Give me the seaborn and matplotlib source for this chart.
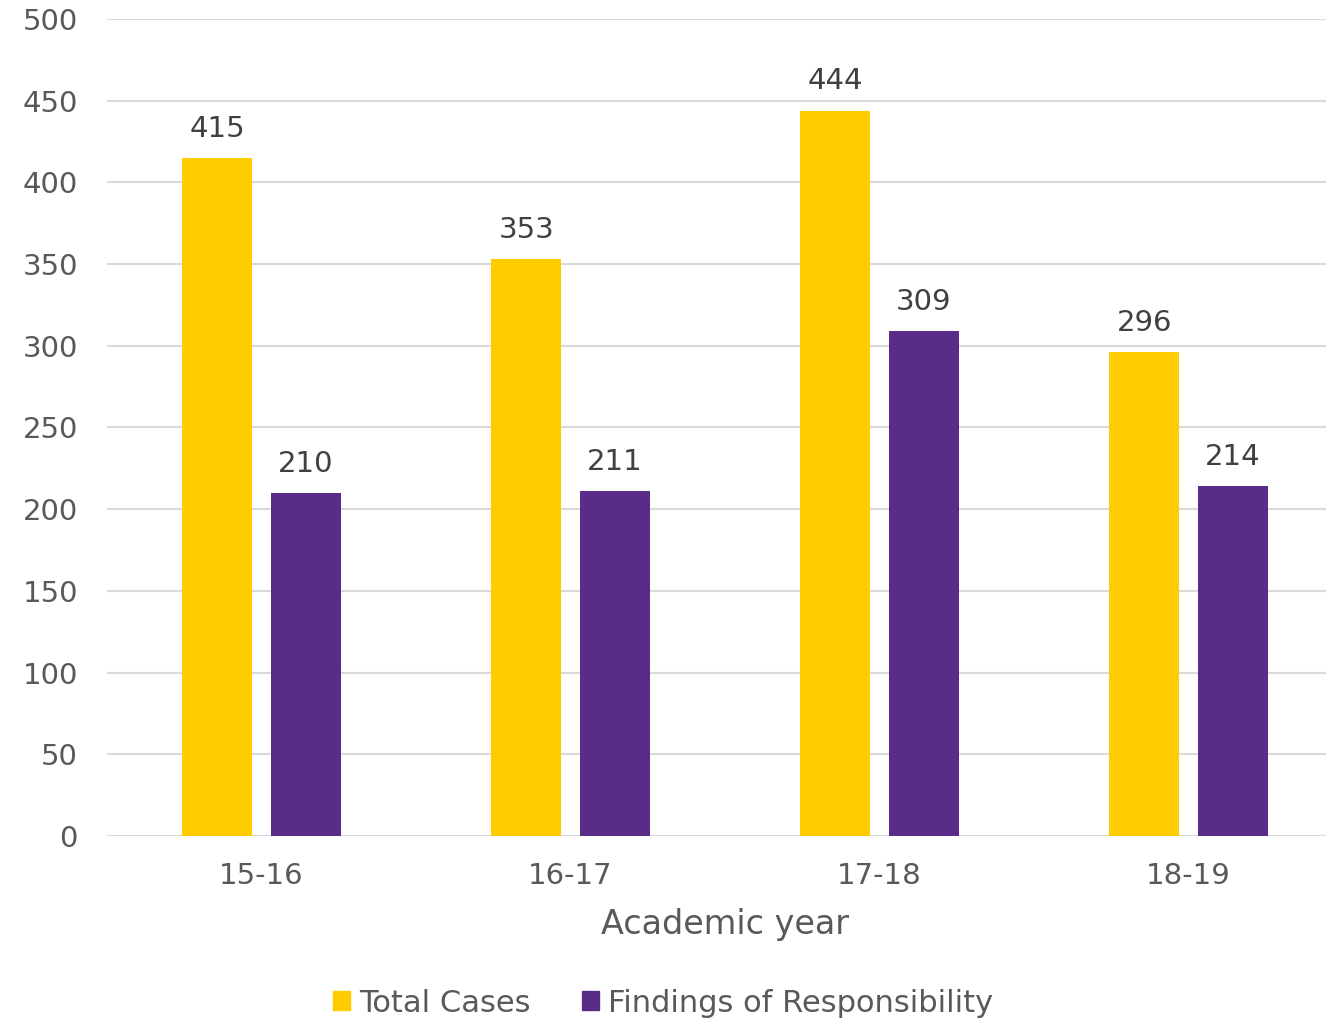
import pandas as pd
import numpy as np
import matplotlib
matplotlib.use('Agg')
import matplotlib.pyplot as plt
import seaborn as sns

# Data
years = ['15-16', '16-17', '17-18', '18-19']
total_cases = [415, 353, 444, 296]
findings = [210, 211, 309, 214]
series_names = ['Total Cases', 'Findings of Responsibility']
colors = ['#FFCC00', '#582C88']

df = pd.DataFrame({
    'year': years * 2,
    'value': total_cases + findings,
    'series': [series_names[0]] * 4 + [series_names[1]] * 4,
})

sns.set_style('white')
plt.rcParams['font.family'] = ['DejaVu Sans']
text_color = '#595959'

fig = plt.figure(figsize=(13.26, 10.21), dpi=100)
ax = fig.add_axes([107 / 1326, 1 - 836 / 1021, 1236 / 1326, 817 / 1021])

sns.barplot(data=df, x='year', y='value', hue='series', palette=colors,
            width=0.573, gap=0.21, ax=ax, legend=False, saturation=1,
            linewidth=0)

ax.set_ylim(0, 500)
ax.set_xlim(-0.5, 3.5)
ax.set_yticks(range(0, 501, 50))
ax.yaxis.grid(True, color='#D9D9D9', linewidth=1.5)
ax.set_axisbelow(True)
for s in ax.spines.values():
    s.set_visible(False)
ax.tick_params(axis='both', length=0, labelsize=21, colors=text_color)
ax.tick_params(axis='y', pad=21)
ax.tick_params(axis='x', pad=19)
ax.set_ylabel('')
ax.set_xlabel('Academic year', fontsize=24, color=text_color, labelpad=13)

# Value labels
for cont in ax.containers:
    ax.bar_label(cont, padding=11, fontsize=21, color='#404040')

# Legend
handles = [plt.Rectangle((0, 0), 1, 1, color=c) for c in colors]
fig.legend(handles, series_names, loc='center', bbox_to_anchor=(0.5, 1 - 1003 / 1021),
           ncol=2, frameon=False, fontsize=22, handlelength=0.55, handleheight=0.55,
           handletextpad=0.3, columnspacing=1.7, labelcolor=text_color)

fig.savefig('out.png', dpi=100)
